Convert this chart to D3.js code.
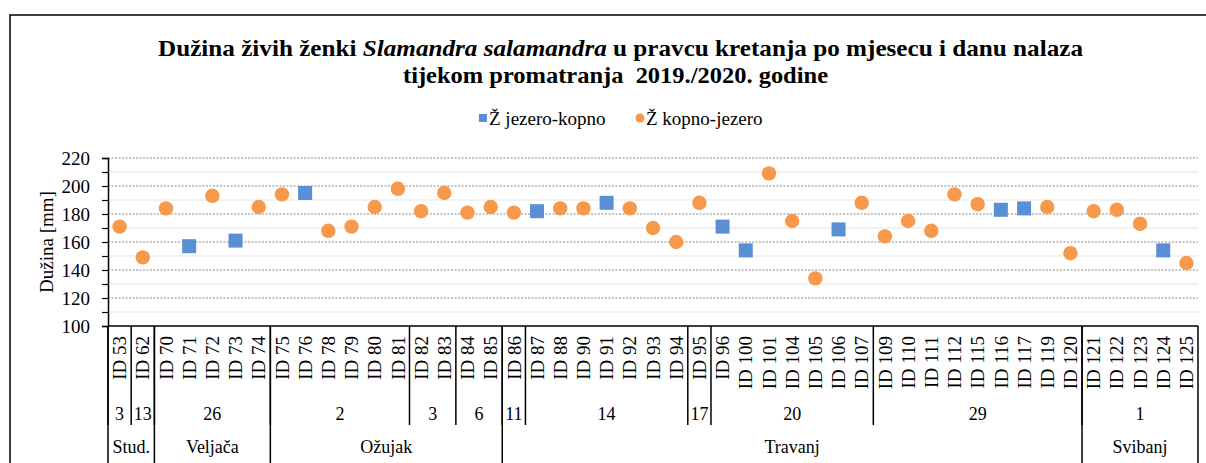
<!DOCTYPE html>
<html>

<head>
    <meta charset="utf-8" />
    <title>Dužina ženki</title>
    <script src="https://d3js.org/d3.v7.min.js"></script>
    <style>
        body { margin: 0; background: #fff; }
        svg { font-family: "Liberation Serif", "Times New Roman", serif; }
    </style>
</head>

<body>
    <div class="chart"></div>

    <script>
        // category ids along the x axis
        var categories = ["ID 53", "ID 62", "ID 70", "ID 71", "ID 72", "ID 73", "ID 74", "ID 75", "ID 76", "ID 78",
            "ID 79", "ID 80", "ID 81", "ID 82", "ID 83", "ID 84", "ID 85", "ID 86", "ID 87", "ID 88", "ID 90",
            "ID 91", "ID 92", "ID 93", "ID 94", "ID 95", "ID 96", "ID 100", "ID 101", "ID 104", "ID 105",
            "ID 106", "ID 107", "ID 109", "ID 110", "ID 111", "ID 112", "ID 115", "ID 116", "ID 117", "ID 119",
            "ID 120", "ID 121", "ID 122", "ID 123", "ID 124", "ID 125"];

        // Ž jezero-kopno (blue squares)
        var jezeroKopno = [null, null, null, 157, null, 161, null, null, 195, null,
            null, null, null, null, null, null, null, null, 182, null, null,
            188, null, null, null, null, 171, 154, null, null, null,
            169, null, null, null, null, null, null, 183, 184, null,
            null, null, null, null, 154, null];

        // Ž kopno-jezero (orange circles)
        var kopnoJezero = [171, 149, 184, null, 193, null, 185, 194, null, 168,
            171, 185, 198, 182, 195, 181, 185, 181, null, 184, 184,
            null, 184, 170, 160, 188, null, null, 209, 175, 134,
            null, 188, 164, 175, 168, 194, 187, null, null, 185,
            152, 182, 183, 173, null, 145];

        // day and month groups (number of categories in each)
        var dayLabels = ["3", "13", "26", "2", "3", "6", "11", "14", "17", "20", "29", "1"];
        var daySpans = [1, 1, 5, 6, 2, 2, 1, 7, 1, 7, 9, 5];
        var monthLabels = ["Stud.", "Veljača", "Ožujak", "Travanj", "Svibanj"];
        var monthSpans = [2, 5, 10, 25, 5];

        var yTicks = [100, 120, 140, 160, 180, 200, 220];

        var blue = "#5a8fd6";
        var orange = "#f7984a";

        const w = 1206, h = 463;
        const pLeft = 108, pRight = 1198, pTop = 158, pBottom = 326;

        let svg = d3.select('.chart')
            .append('svg')
            .attr('width', w)
            .attr('height', h);

        // chart frame (only top and left are visible)
        svg.append('path')
            .attr('d', 'M10,463 V15 H1206')
            .attr('fill', 'none')
            .attr('stroke', '#000')
            .attr('stroke-width', 1.5);

        // title, stretched to the width of the original
        let t1 = svg.append('text')
            .attr('x', 620.5).attr('y', 56)
            .attr('text-anchor', 'middle')
            .attr('font-weight', 'bold')
            .attr('font-size', 24)
            .attr('textLength', 925)
            .attr('lengthAdjust', 'spacingAndGlyphs');
        t1.append('tspan').text('Dužina živih ženki ');
        t1.append('tspan').attr('font-style', 'italic').text('Slamandra salamandra');
        t1.append('tspan').text(' u pravcu kretanja po mjesecu i danu nalaza');
        svg.append('text')
            .attr('x', 615.5).attr('y', 83)
            .attr('text-anchor', 'middle')
            .attr('font-weight', 'bold')
            .attr('font-size', 24)
            .attr('textLength', 425)
            .attr('lengthAdjust', 'spacingAndGlyphs')
            .attr('xml:space', 'preserve')
            .text('tijekom promatranja  2019./2020. godine');

        // legend
        let legend = svg.append('g').attr('font-size', 19);
        legend.append('rect').attr('x', 479).attr('y', 114).attr('width', 8).attr('height', 8).attr('fill', blue);
        legend.append('text').attr('x', 489).attr('y', 124.5).text('Ž jezero-kopno');
        legend.append('circle').attr('cx', 640).attr('cy', 118).attr('r', 4.5).attr('fill', orange);
        legend.append('text').attr('x', 646).attr('y', 124.5).text('Ž kopno-jezero');

        // scales
        let x = d3.scaleBand().domain(categories).range([pLeft, pRight]);
        let y = d3.scaleLinear().domain([100, 220]).range([pBottom, pTop]);

        // minor gridlines
        svg.selectAll('.minor')
            .data(d3.range(110, 220, 20))
            .enter()
            .append('line')
            .attr('x1', pLeft).attr('x2', pRight)
            .attr('y1', d => y(d)).attr('y2', d => y(d))
            .attr('stroke', '#e4e4e4')
            .attr('stroke-width', 1.2);

        // major gridlines (dotted)
        svg.selectAll('.major')
            .data(yTicks.slice(1))
            .enter()
            .append('line')
            .attr('x1', pLeft).attr('x2', pRight)
            .attr('y1', d => y(d)).attr('y2', d => y(d))
            .attr('stroke', '#8a8a8a')
            .attr('stroke-width', 1.2)
            .attr('stroke-dasharray', '2,1.5');

        // y axis with minor ticks
        let yAxis = d3.axisLeft(y)
            .tickValues(d3.range(100, 221, 10))
            .tickSize(6)
            .tickPadding(12)
            .tickFormat(d => yTicks.includes(d) ? d : '');
        let ya = svg.append('g')
            .attr('transform', `translate(${pLeft},0)`)
            .call(yAxis);
        ya.select('.domain').attr('stroke', '#000').attr('stroke-width', 1.5);
        ya.selectAll('.tick line').attr('stroke', '#000').attr('stroke-width', 1.2);
        ya.selectAll('.tick text')
            .attr('font-family', '"Liberation Serif", serif')
            .attr('font-size', 19)
            .attr('fill', '#000');

        svg.append('text')
            .attr('transform', 'translate(53,242) rotate(-90)')
            .attr('text-anchor', 'middle')
            .attr('font-size', 19)
            .text('Dužina [mm]');

        // x axis line
        svg.append('line')
            .attr('x1', pLeft).attr('x2', pRight)
            .attr('y1', pBottom).attr('y2', pBottom)
            .attr('stroke', '#000')
            .attr('stroke-width', 1.5);

        // category labels
        svg.selectAll('.cat')
            .data(categories)
            .enter()
            .append('text')
            .attr('transform', d => `translate(${x(d) + x.bandwidth() / 2},336) rotate(-90)`)
            .attr('text-anchor', 'end')
            .attr('dy', '0.35em')
            .attr('font-size', 19)
            .text(d => d);

        // day group rows
        let start = 0;
        daySpans.forEach((n, i) => {
            let x0 = x(categories[start]);
            let x1 = x0 + n * x.bandwidth();
            svg.append('line')
                .attr('x1', x0).attr('x2', x0)
                .attr('y1', pBottom).attr('y2', 425)
                .attr('stroke', '#000').attr('stroke-width', 1.5);
            svg.append('text')
                .attr('x', (x0 + x1) / 2)
                .attr('y', 420)
                .attr('text-anchor', 'middle')
                .attr('font-size', 18)
                .text(dayLabels[i]);
            start += n;
        });

        // month group rows
        start = 0;
        monthSpans.forEach((n, i) => {
            let x0 = x(categories[start]);
            let x1 = x0 + n * x.bandwidth();
            svg.append('line')
                .attr('x1', x0).attr('x2', x0)
                .attr('y1', pBottom).attr('y2', h)
                .attr('stroke', '#000').attr('stroke-width', 1.5);
            svg.append('text')
                .attr('x', (x0 + x1) / 2)
                .attr('y', 453)
                .attr('text-anchor', 'middle')
                .attr('font-size', 18)
                .text(monthLabels[i]);
            start += n;
        });
        svg.append('line')
            .attr('x1', pRight).attr('x2', pRight)
            .attr('y1', pBottom).attr('y2', h)
            .attr('stroke', '#000').attr('stroke-width', 1.5);

        // blue squares
        svg.selectAll('.sq')
            .data(categories.map((c, i) => ({ c: c, v: jezeroKopno[i] })).filter(d => d.v !== null))
            .enter()
            .append('rect')
            .attr('x', d => x(d.c) + x.bandwidth() / 2 - 7)
            .attr('y', d => y(d.v) - 7)
            .attr('width', 14)
            .attr('height', 14)
            .attr('fill', blue);

        // orange circles
        svg.selectAll('.dot')
            .data(categories.map((c, i) => ({ c: c, v: kopnoJezero[i] })).filter(d => d.v !== null))
            .enter()
            .append('circle')
            .attr('cx', d => x(d.c) + x.bandwidth() / 2)
            .attr('cy', d => y(d.v))
            .attr('r', 7.2)
            .attr('fill', orange);

    </script>

</body>

</html>
